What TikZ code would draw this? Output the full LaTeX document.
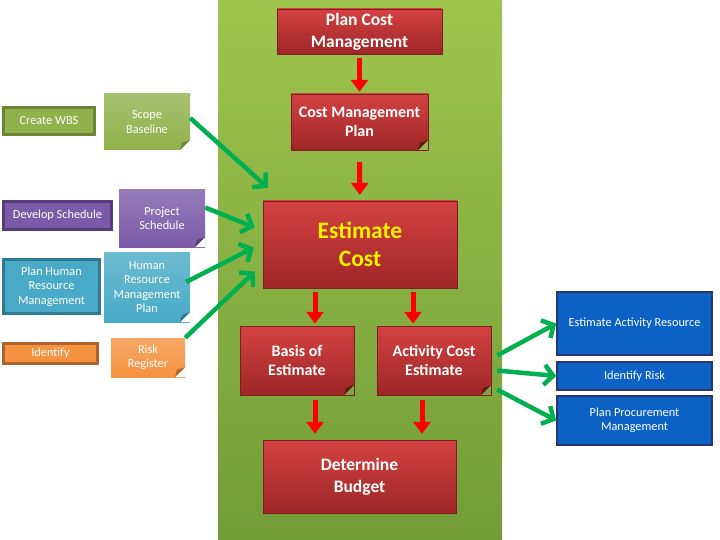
\documentclass[tikz,border=0pt]{standalone}
\usepackage{fontspec}
\setmainfont{Carlito}
\usetikzlibrary{arrows.meta}

\definecolor{fundoA}{RGB}{158,197,77}
\definecolor{fundoB}{RGB}{114,156,56}
\definecolor{vermA}{RGB}{212,66,66}
\definecolor{vermB}{RGB}{158,38,38}
\definecolor{verdeseta}{RGB}{0,176,80}
\definecolor{azul}{RGB}{12,98,196}
\definecolor{azulborda}{RGB}{44,52,112}
\definecolor{oliva}{RGB}{143,178,76}
\definecolor{olivaborda}{RGB}{106,134,54}
\definecolor{roxo}{RGB}{124,90,168}
\definecolor{roxoborda}{RGB}{86,60,124}
\definecolor{ciano}{RGB}{72,170,198}
\definecolor{cianoborda}{RGB}{46,122,148}
\definecolor{laranja}{RGB}{245,146,64}
\definecolor{laranjaborda}{RGB}{176,98,44}

\tikzset{
	caixaverm/.style={top color=vermA, bottom color=vermB, draw=vermB!80!black, thin, text=white, align=center, inner sep=0pt},
	caixaesq/.style={draw=#1borda, line width=3pt, fill=#1, text=white, align=center, inner sep=0pt, font=\fontsize{12.3}{14.5}\selectfont},
	caixaazul/.style={draw=azulborda, line width=1.5pt, fill=azul, text=white, align=center, inner sep=0pt, minimum width=155, font=\fontsize{12.3}{14}\selectfont},
	nota/.style={top color=#1!80!white, bottom color=#1, text=white, align=center, inner sep=0pt, font=\fontsize{12.3}{14.5}\selectfont},
	dobra/.style 2 args={path picture={
		\fill[#1] ([xshift=-10pt]path picture bounding box.south east) -- (path picture bounding box.south east) -- ([yshift=10pt]path picture bounding box.south east) -- cycle;
		\fill[#2] ([xshift=-10pt]path picture bounding box.south east) -- ([yshift=10pt]path picture bounding box.south east) -- ([shift={(-8pt,7pt)}]path picture bounding box.south east) -- cycle;
	}},
	setaverm/.style={draw=red, line width=5pt, -{Triangle[width=17pt,length=12pt]}},
	setaverde/.style={draw=verdeseta, line width=4.5pt, -{Straight Barb[width=20pt,length=9pt]}}
}

\begin{document}
\begin{tikzpicture}[x=1pt,y=-1pt] %Desenho em pixels, y para baixo
	\fill[white] (0,0) rectangle (720,540);
	\useasboundingbox (0,0) rectangle (720,540);
		%Faixa verde
	\shade[top color=fundoA, bottom color=fundoB] (218,0) rectangle (502,540);
		%Caixas centrais
	\node[caixaverm, minimum width=165, minimum height=45, font=\fontsize{17.5}{22}\selectfont\bfseries] (pcm) at (359.5,31.5) {Plan Cost\\Management};
	\node[caixaverm, minimum width=137, minimum height=56, font=\fontsize{16}{19}\selectfont\bfseries, dobra={fundoB!28!fundoA}{vermB!60!black}] (cmp) at (359.5,122) {Cost Management\\Plan};
	\node[caixaverm, minimum width=194, minimum height=87, text=yellow, font=\fontsize{23.5}{28}\selectfont\bfseries] (ec) at (360,244.5) {Estimate\\Cost};
	\node[caixaverm, minimum width=114, minimum height=69, font=\fontsize{16}{19}\selectfont\bfseries, dobra={fundoB!73!fundoA}{vermB!60!black}] (boe) at (297,360.5) {Basis of\\Estimate};
	\node[caixaverm, minimum width=114, minimum height=69, font=\fontsize{16}{19}\selectfont\bfseries, dobra={fundoB!73!fundoA}{vermB!60!black}] (ace) at (434,360.5) {Activity Cost\\Estimate};
	\node[caixaverm, minimum width=193, minimum height=73, font=\fontsize{17.5}{22}\selectfont\bfseries] (db) at (359.5,476.5) {Determine\\Budget};
		%Processos da esquerda
	\node[caixaesq=oliva, minimum width=91, minimum height=27] (wbs) at (49,121) {Create WBS};
	\node[caixaesq=roxo, minimum width=108, minimum height=28] (dsch) at (57.5,215.5) {Develop Schedule};
	\node[caixaesq=ciano, minimum width=96, minimum height=54] (phrm) at (51.5,286.5) {Plan Human\\Resource\\Management};
	\node[caixaesq=laranja, minimum width=94, minimum height=20] (idf) at (50.5,353.5) {Identify};
		%Saidas da esquerda
	\node[nota=oliva, minimum width=86, minimum height=56, dobra={white}{olivaborda}] (sb) at (147,122) {Scope\\Baseline};
	\node[nota=roxo, minimum width=86, minimum height=57, dobra={white}{roxoborda}] (ps) at (162,218.5) {Project\\Schedule};
	\node[nota=ciano, minimum width=86, minimum height=70, dobra={white}{cianoborda}] (hrmp) at (147,287) {Human\\Resource\\Management\\Plan};
	\node[nota=laranja, minimum width=74, minimum height=39, dobra={white}{laranjaborda}] (rr) at (148,357.5) {Risk\\Register};
		%Processos da direita
	\node[caixaazul, minimum height=63] (ear) at (634.5,323.5) {Estimate Activity Resource};
	\node[caixaazul, minimum height=28] (ir) at (634.5,376) {Identify Risk};
	\node[caixaazul, minimum height=49] (ppm) at (634.5,420.5) {Plan Procurement\\Management};
		%Setas vermelhas
	\draw[setaverm, shorten <=4pt, shorten >=2pt] (pcm) -- (cmp);
	\draw[setaverm, shorten <=12pt, shorten >=6pt] (cmp) -- (ec);
	\draw[setaverm, shorten <=4pt, shorten >=2pt] ([xshift=-45pt]ec.south) -- ([xshift=18pt]boe.north);
	\draw[setaverm, shorten <=4pt, shorten >=2pt] ([xshift=53pt]ec.south) -- ([xshift=-21pt]ace.north);
	\draw[setaverm, shorten <=5pt, shorten >=6pt] ([xshift=18pt]boe.south) -- ([xshift=-44.5pt]db.north);
	\draw[setaverm, shorten <=5pt, shorten >=6pt] ([xshift=-12pt]ace.south) -- ([xshift=62.5pt]db.north);
		%Setas verdes
	\draw[setaverde] ([yshift=4pt]sb.east) -- ([shift={(5pt,13pt)}]ec.north west);
	\draw[setaverde] ([yshift=11pt]ps.east) -- ([shift={(-8pt,17pt)}]ec.west);
	\draw[setaverde] ([shift={(-4pt,5pt)}]hrmp.east) -- ([shift={(-9pt,-3pt)}]ec.west);
	\draw[setaverde] (rr.north east) -- ([shift={(-8pt,-27pt)}]ec.west);
	\draw[setaverde] ([shift={(6pt,5pt)}]ace.east) -- (ear.west);
	\draw[setaverde] ([shift={(6pt,-10pt)}]ace.east) -- (ir.west);
	\draw[setaverde] ([shift={(6pt,-29pt)}]ace.east) -- (ppm.west);
\end{tikzpicture}
\end{document}
